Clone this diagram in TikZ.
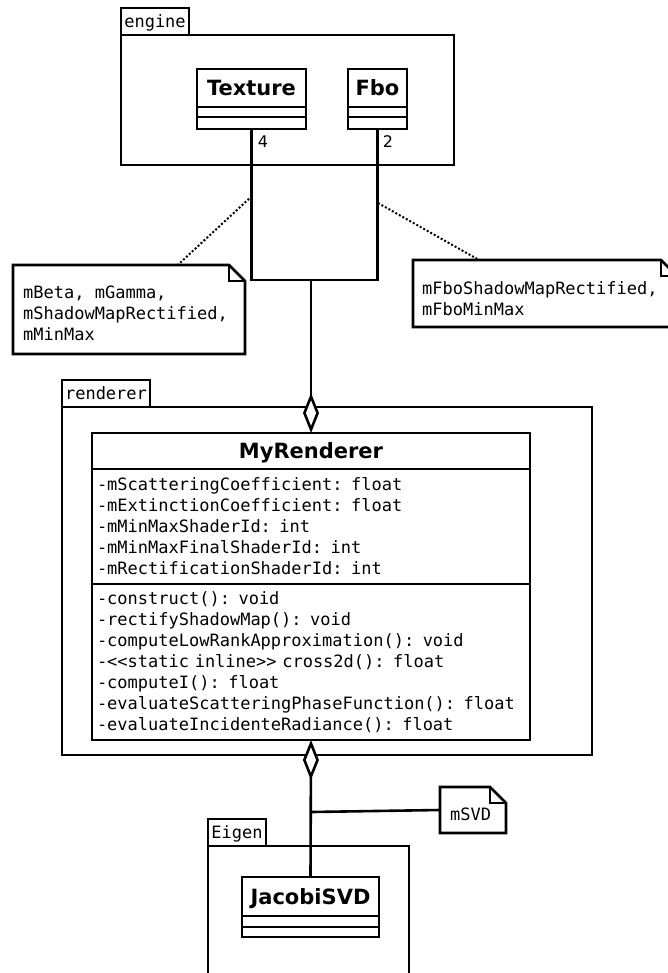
\documentclass[tikz,border=0pt]{standalone}
\usepackage{fontspec}
\setmainfont{DejaVu Sans}
\newfontfamily\umlmono[Ligatures=TeXOff]{DejaVu Sans Mono}
\usetikzlibrary{arrows.meta, positioning, calc}

\tikzset{
  uml/.style={draw, line width=2.6pt, outer sep=0pt, inner sep=0pt},
  classname/.style={uml, anchor=north, font=\bfseries\fontsize{21}{25}\selectfont, text height=15.3pt, text depth=0pt},
  compart/.style={uml},
  members/.style={uml, font=\umlmono\fontsize{17}{21}\selectfont, align=left, inner xsep=5pt},
  pkgtab/.style={uml, anchor=north west, font=\umlmono\fontsize{17}{21}\selectfont, minimum height=27pt, text height=12.9pt, text depth=0pt},
  pkgbody/.style={uml, anchor=north west},
  notebox/.style={outer sep=0pt, inner sep=0pt, anchor=north west},
  notetext/.style={anchor=north west, inner sep=0pt, align=left, font=\umlmono\fontsize{17}{21}\selectfont},
  notelink/.style={line width=2pt, dash pattern=on 2pt off 2pt},
  link/.style={line width=2.6pt},
  aggr/.style={link, -{Diamond[fill=white, length=40pt, width=16pt]}},
  mult/.style={font=\fontsize{16}{19}\selectfont, inner sep=0pt}
}

% note outline with folded corner
\newcommand{\notefold}[1]{%
  \draw[line width=2.6pt] (#1.north west) -- ($(#1.north east)+(-16,0)$) -- ($(#1.north east)+(0,16)$) -- (#1.south east) -- (#1.south west) -- cycle;
  \draw[line width=1.4pt] ($(#1.north east)+(-16,0)$) |- ($(#1.north east)+(0,16)$);
}

\begin{document}
\begin{tikzpicture}[x=1pt, y=-1pt]
  \useasboundingbox (0,0) rectangle (667,973);

  % packages
  \node[pkgtab, minimum width=68pt] (enginetab) at (121,8) {engine};
  \node[pkgbody, minimum width=333pt, minimum height=130pt] (engine) at (121,35) {};
  \node[pkgtab, minimum width=88pt] (renderertab) at (62,380) {renderer};
  \node[pkgbody, minimum width=530pt, minimum height=348pt] (renderer) at (62,407) {};
  \node[pkgtab, minimum width=58pt] (eigentab) at (208,819) {Eigen};
  \node[pkgbody, minimum width=201pt, minimum height=200pt] (eigen) at (208,846) {};

  % texture
  \node[classname, minimum width=109pt, minimum height=38pt] (texture) at (251.5,69) {Texture};
  \node[compart, minimum width=109pt, minimum height=10pt, below=0pt of texture] (textureA) {};
  \node[compart, minimum width=109pt, minimum height=12pt, below=0pt of textureA] (textureO) {};

  % fbo
  \node[classname, minimum width=59pt, minimum height=38pt] (fbo) at (377.5,69) {Fbo};
  \node[compart, minimum width=59pt, minimum height=10pt, below=0pt of fbo] (fboA) {};
  \node[compart, minimum width=59pt, minimum height=12pt, below=0pt of fboA] (fboO) {};

  % myrenderer
  \node[classname, minimum width=438pt, minimum height=36pt] (myr) at (311,433) {MyRenderer};
  \node[members, text width=428pt, minimum height=115pt, below=0pt of myr] (myrA) {%
    -mScatteringCoefficient: float\\
    -mExtinctionCoefficient: float\\
    -mMinMaxShaderId: int\\
    -mMinMaxFinalShaderId: int\\
    -mRectificationShaderId: int};
  \node[members, text width=428pt, minimum height=156pt, below=0pt of myrA] (myrO) {%
    -construct(): void\\
    -rectifyShadowMap(): void\\
    -computeLowRankApproximation(): void\\
    -<\kern0pt<static inline>\kern0pt> cross2d(): float\\
    -computeI(): float\\
    -evaluateScatteringPhaseFunction(): float\\
    -evaluateIncidenteRadiance(): float};

  % jacobisvd
  \node[classname, minimum width=137pt, minimum height=39pt] (jacobi) at (310.5,877) {JacobiSVD};
  \node[compart, minimum width=137pt, minimum height=11pt, below=0pt of jacobi] (jacobiA) {};
  \node[compart, minimum width=137pt, minimum height=10pt, below=0pt of jacobiA] (jacobiO) {};

  % multiplicities
  \node[mult] (multtex) at (263,142) {4};
  \node[mult] (multfbo) at (388,142) {2};

  % texture and fbo to myrenderer
  \coordinate (join) at (311,280);
  \draw[link] (textureO.south) |- (join) -| (fboO.south);
  \draw[aggr] (join) -- (myr.north);

  % notes
  \node[notebox, minimum width=232pt, minimum height=89pt] (nbeta) at (13,265) {};
  \notefold{nbeta}
  \node[notetext] (nbetatxt) at ($(nbeta.north west)+(10,21)$) {mBeta, mGamma,\\mShadowMapRectified,\\mMinMax};
  \node[notebox, minimum width=264pt, minimum height=67pt] (nfbo) at (413,260) {};
  \notefold{nfbo}
  \node[notetext] (nfbotxt) at ($(nfbo.north west)+(9,21)$) {mFboShadowMapRectified,\\mFboMinMax};
  \node[notebox, minimum width=66pt, minimum height=46pt] (nsvd) at (440,787) {};
  \notefold{nsvd}
  \node[notetext] (nsvdtxt) at ($(nsvd.north west)+(10,21)$) {mSVD};

  % note links
  \coordinate (tlink) at (252,196);
  \coordinate (flink) at (378,203);
  \draw[notelink] (tlink) -- ($(nbeta.north west)!0.71!(nbeta.north east)$);
  \draw[notelink] (flink) -- ($(nfbo.north west)!0.25!(nfbo.north east)$);

  % jacobisvd to myrenderer
  \draw[aggr] (jacobi.north) -- (myrO.south);
  \coordinate (svdjoin) at (311,812);
  \draw[link] (svdjoin) -- (nsvd.west);
\end{tikzpicture}
\end{document}
